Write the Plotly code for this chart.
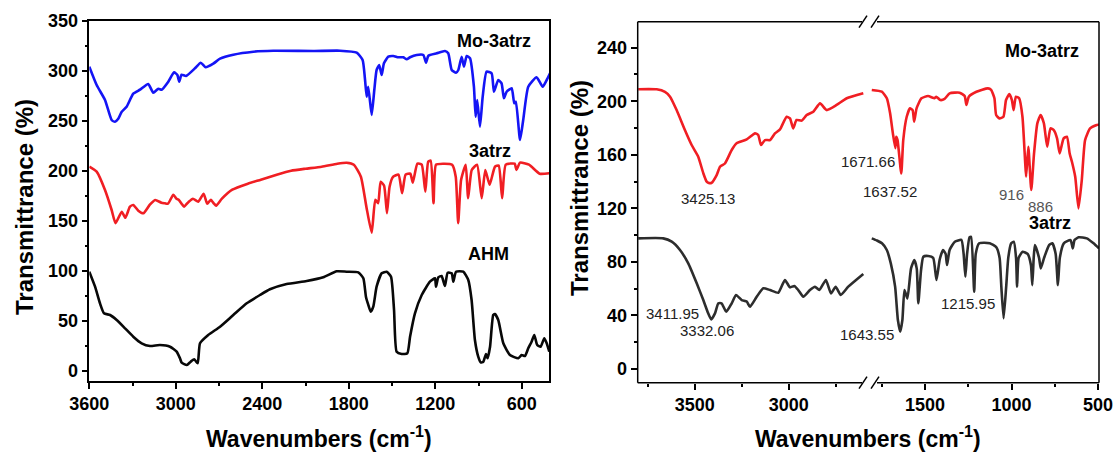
import plotly.graph_objects as go

W, H = 1117, 454

# ---------------- Left panel: full-range spectra ----------------
mo_wn = [3600, 3549, 3491, 3445, 3422, 3399, 3375, 3341, 3295, 3248, 3191, 3156, 3121, 3098,
         3052, 3012, 2989, 2976, 2960, 2929, 2867, 2827, 2793, 2740, 2693, 2601, 2462, 2324,
         2046, 1861, 1745, 1704, 1688, 1676, 1665, 1641, 1623, 1607, 1589, 1572, 1556, 1526,
         1491, 1457, 1422, 1398, 1375, 1329, 1283, 1264, 1248, 1190, 1133, 1110, 1086, 1056,
         1040, 1017, 1001, 982, 959, 932, 920, 909, 890, 871, 844, 809, 793, 763, 740, 724,
         705, 670, 652, 641, 612, 590, 555, 497, 455, 427, 404]
mo_t = [304, 285.7, 270.7, 250.7, 249, 252, 259, 264, 277, 281, 286.7, 278, 282, 281,
        289, 298.4, 295.7, 289, 296, 294.7, 302.4, 308, 303.4, 307, 312, 316, 319, 320,
        319.7, 320, 318, 310.7, 292, 274, 284, 255.7, 280.7, 300.7, 305.7, 295.7, 307.4, 314,
        314.7, 313.4, 313.4, 311.4, 313.4, 315.7, 315.7, 308, 315, 317.4, 319.7, 317.4, 300.7, 298,
        300.7, 314, 304, 314.7, 312.4, 284, 254, 270.7, 244, 274, 299, 297.4, 279, 290.7, 287.4, 272.4,
        279, 282.4, 267.4, 269, 230.7, 250.7, 284, 293.4, 284, 290.7, 297.4]

atrz_wn = [3600, 3549, 3491, 3445, 3418, 3375, 3350, 3318, 3295, 3260, 3225, 3180, 3143, 3100,
           3075, 3054, 3017, 2995, 2980, 2960, 2943, 2910, 2881, 2844, 2807, 2782, 2757, 2735,
           2720, 2680, 2608, 2500, 2410, 2300, 2200, 2100, 1988, 1880, 1815, 1765, 1716, 1678,
           1641, 1616, 1596, 1579, 1555, 1535, 1517, 1492, 1455, 1430, 1406, 1373, 1356, 1324,
           1294, 1269, 1249, 1232, 1212, 1195, 1145, 1083, 1058, 1041, 1021, 989, 972, 947, 910,
           878, 853, 823, 786, 760, 736, 711, 649, 637, 612, 550, 476, 409]
atrz_t = [204, 199, 180.7, 160.7, 147.5, 159, 153, 164, 165.7, 160, 157.4, 166, 170.7, 168,
          167.4, 167, 176, 172, 171, 167, 164, 169, 172, 169, 177, 167, 171, 167,
          165, 172, 181, 187, 191, 196, 200, 202, 204, 207, 208, 206, 194, 164,
          138, 171, 167.5, 189, 185, 157.6, 184, 194, 196, 177.5, 196, 197, 188, 207,
          206, 179, 209, 210, 167.5, 206, 207, 206, 194, 147.6, 190.7, 206, 172.5, 200.7, 206,
          172.5, 200.7, 186, 204, 205, 172.5, 206, 207, 200.7, 208, 206, 197, 197.5]

ahm_wn = [3600, 3560, 3526, 3498, 3456, 3410, 3352, 3295, 3237, 3179, 3110, 3040, 2994, 2971,
          2959, 2924, 2897, 2872, 2848, 2832, 2775, 2693, 2601, 2508, 2416, 2347, 2231, 2092,
          1977, 1884, 1815, 1734, 1699, 1681, 1665, 1648, 1630, 1607, 1572, 1537, 1507, 1486,
          1468, 1433, 1394, 1375, 1341, 1294, 1237, 1202, 1195, 1179, 1156, 1133, 1114, 1086,
          1075, 1056, 1006, 971, 948, 925, 902, 885, 867, 848, 837, 820, 798, 786, 763, 728,
          682, 624, 601, 578, 555, 532, 513, 493, 469, 444, 427, 409]
ahm_t = [99, 84, 67.4, 57.4, 55.7, 50.7, 42.4, 34, 27.4, 24.7, 25.7, 24, 19, 12.4,
         8, 5.7, 9, 11.4, 7.4, 27.4, 35.7, 44, 55.7, 67.4, 75.7, 81.4, 86.7, 89.7,
         93.4, 99.4, 99, 98.4, 92.4, 74, 66, 59, 64, 84, 97.4, 99, 94, 60.7,
         19, 16.7, 17.4, 34, 57.4, 75.7, 89, 92.4, 84, 93.4, 94.7, 84.7, 98, 97.4,
         89, 99, 99, 90.7, 70.7, 30.7, 14, 8.4, 9, 16.7, 12.4, 24, 55.7, 56.7, 50.7, 27.4,
         15.7, 12.4, 15.7, 14.7, 22.4, 29, 35.7, 25.7, 24, 32.4, 27.4, 19]

# ---------------- Right panel: broken-axis comparison ----------------
mo_hi_wn = [3800, 3702, 3658, 3631, 3596, 3552, 3516, 3481, 3454, 3436, 3425.13, 3410, 3383,
            3365, 3339, 3303, 3277, 3223, 3179, 3162, 3147, 3126, 3099, 3073, 3046, 3011,
            2993, 2976, 2958, 2931, 2904, 2869, 2833, 2798, 2745, 2691, 2603]
mo_hi_t = [209, 208.9, 207, 203.4, 193.4, 178.5, 167.3, 158.6, 146.2, 139.9, 139, 139.1, 144.9,
           151.1, 153.5, 163.6, 168.6, 171.5, 176, 174.8, 167.3, 171, 171, 176, 179, 188.4,
           187.2, 179.7, 186, 185.5, 189.7, 192.2, 198.4, 193.4, 197.2, 202.2, 205.9]

mo_lo_wn = [1808, 1750, 1721, 1702, 1686, 1671.66, 1667, 1659, 1637.52, 1626, 1606, 1587, 1572,
            1563, 1549, 1521, 1483, 1445, 1435, 1412, 1387, 1358, 1300, 1271, 1261, 1247, 1203,
            1137, 1118, 1099, 1089, 1070, 1047, 1032, 1013, 998, 988, 975, 956, 937, 922, 916,
            903, 886, 870, 851, 832, 813, 794, 775, 756, 737, 722, 699, 680, 664, 651, 632,
            613, 594, 575, 546, 508, 495]
mo_lo_t = [208.4, 207.1, 202.2, 191, 176, 165, 173.5, 171, 146, 171, 188.4, 194.7, 193.4,
           184.7, 194.7, 202.2, 203.9, 202.2, 203.4, 200.9, 201.7, 205.9, 206.4, 203.9, 197.2, 203.4, 207.1,
           209.6, 208.4, 202.2, 189.7, 187.2, 188.4, 200.9, 205.4, 200.9, 193.4, 203.4, 202.2, 188.4, 156, 143.6,
           166, 133.7, 161, 183.5, 189.7, 183.5, 166, 179.7, 178.5, 172.3, 161, 172.3, 173.5, 161, 154.8, 143.6,
           120, 141.1, 171, 179.7, 182.2, 182.7]

atrz_hi_wn = [3800, 3667, 3622, 3578, 3534, 3489, 3454, 3428, 3411.95, 3392, 3374, 3357, 3332.06,
              3303, 3280, 3250, 3223, 3206, 3170, 3135, 3099, 3055, 3020, 2993, 2970, 2949, 2922,
              2887, 2860, 2837, 2802, 2775, 2750, 2723, 2683, 2603]
atrz_hi_t = [97.6, 97.6, 95.1, 88.9, 78.9, 64, 51.5, 41.6, 37.1, 41.6, 49.1, 49.1, 42.8,
             49.1, 55.3, 51.5, 50.4, 46.5, 54, 60.3, 59, 57, 66.5, 61, 62, 59, 54,
             59, 61.5, 59, 66.5, 56.5, 61.5, 55.3, 61.5, 71]

atrz_lo_wn = [1808, 1778, 1749, 1721, 1698, 1673, 1657, 1643.55, 1631, 1619, 1602, 1581, 1562,
              1548, 1539, 1523, 1510, 1482, 1453, 1434, 1415, 1396, 1381, 1373, 1358, 1328, 1290,
              1277, 1267, 1257, 1243, 1234, 1215.95, 1207, 1187, 1126, 1088, 1069, 1059, 1046, 1031,
              1019, 1002, 987, 974, 968, 959, 936, 907, 888, 880, 872, 865, 841, 831, 812, 783,
              764, 745, 732, 721, 698, 659, 646, 636, 612, 565, 526, 495]
atrz_lo_t = [97.6, 96, 93.9, 88.9, 78.9, 61.5, 36.6, 27.9, 36.6, 59, 52.8, 75.2, 81.4,
             75, 49.1, 74, 83.9, 84.4, 83, 66.5, 82, 88.9, 86, 77.7, 88.9, 95.1, 96.4,
             86, 68.9, 86, 98.4, 98.8, 57.7, 86, 93.9, 94, 91, 83, 61.5, 37.9, 61.5,
             83, 93.9, 95.1, 83, 61.5, 83, 87.6, 86, 77.7, 62.7, 83, 92.6, 83, 75.2, 83, 92.6,
             93.9, 86, 62.7, 83, 93.9, 96.3, 90.1, 96.3, 98.4, 97.6, 93.9, 90.1]

# Peak labels: (text, x px, y px, colour)
peak_labels = [
    ("3425.13", 708, 199, "#222222"),
    ("3411.95", 672, 313, "#222222"),
    ("3332.06", 707, 330, "#222222"),
    ("1671.66", 868, 161, "#222222"),
    ("1637.52", 890, 191, "#222222"),
    ("916", 1011, 194, "#555555"),
    ("886", 1040, 206, "#555555"),
    ("1215.95", 968, 303, "#222222"),
    ("1643.55", 867, 334, "#222222"),
]

BLUE = "rgb(20,20,245)"
RED = "rgb(240,30,35)"
BLACK_L = "rgb(8,8,8)"
BLACK_R = "rgb(45,45,45)"
LW = 2.6
FONT = "Liberation Sans"


def px(x):
    return x / W


def py(y):
    return 1 - y / H


fig = go.Figure()

line_kw = dict(shape="spline", smoothing=0.5, width=LW)
fig.add_trace(go.Scatter(x=mo_wn, y=mo_t, mode="lines", line=dict(color=BLUE, **line_kw),
                         xaxis="x", yaxis="y"))
fig.add_trace(go.Scatter(x=atrz_wn, y=atrz_t, mode="lines", line=dict(color=RED, **line_kw),
                         xaxis="x", yaxis="y"))
fig.add_trace(go.Scatter(x=ahm_wn, y=ahm_t, mode="lines", line=dict(color=BLACK_L, **line_kw),
                         xaxis="x", yaxis="y"))

fig.add_trace(go.Scatter(x=mo_hi_wn, y=mo_hi_t, mode="lines", line=dict(color=RED, **line_kw),
                         xaxis="x2", yaxis="y2"))
fig.add_trace(go.Scatter(x=atrz_hi_wn, y=atrz_hi_t, mode="lines", line=dict(color=BLACK_R, **line_kw),
                         xaxis="x2", yaxis="y2"))
fig.add_trace(go.Scatter(x=mo_lo_wn, y=mo_lo_t, mode="lines", line=dict(color=RED, **line_kw),
                         xaxis="x3", yaxis="y2"))
fig.add_trace(go.Scatter(x=atrz_lo_wn, y=atrz_lo_t, mode="lines", line=dict(color=BLACK_R, **line_kw),
                         xaxis="x3", yaxis="y2"))

tickfont = dict(family=FONT, size=18, color="black", weight="bold")
common = dict(ticks="outside", ticklen=6, tickwidth=1.5, tickcolor="black", automargin=False,
              tickfont=tickfont, showgrid=False, zeroline=False)
minor_kw = dict(tick0=0, ticklen=3, tickwidth=1.5, tickcolor="black", ticks="outside")

# left panel geometry
L_x0, L_x1, L_y0, L_y1 = 89.3, 549.3, 20.7, 381
# right panel geometry
R_x0, R_xb, R_x1, R_y0, R_y1 = 637.7, 869, 1099, 21.7, 382.7

fig.update_layout(
    width=W, height=H,
    margin=dict(l=0, r=0, t=0, b=0, autoexpand=False),
    paper_bgcolor="white", plot_bgcolor="white",
    showlegend=False,
    xaxis=dict(domain=[px(L_x0), px(L_x1)], range=[3600, 409], anchor="y",
               dtick=600, tick0=0, showline=True, mirror=True, linecolor="black", linewidth=1.5,
               minor=dict(dtick=300, **minor_kw), **common),
    yaxis=dict(domain=[py(L_y1), py(L_y0)], range=[-10.3, 350], anchor="x",
               dtick=50, tick0=0, showline=True, mirror=True, linecolor="black", linewidth=1.5,
               minor=dict(dtick=25, **minor_kw), **common),
    xaxis2=dict(domain=[px(R_x0), px(R_xb)], range=[3803, 3803 - (R_xb - R_x0) / 0.188], anchor="y2",
                dtick=500, tick0=0, showline=False,
                minor=dict(dtick=250, **minor_kw), **common),
    xaxis3=dict(domain=[px(R_xb), px(R_x1)], range=[1824, 1824 - (R_x1 - R_xb) / 0.173], anchor="y2",
                dtick=500, tick0=0, showline=False,
                minor=dict(dtick=250, **minor_kw), **common),
    yaxis2=dict(domain=[py(R_y1), py(R_y0)], range=[-10.2, 259.4], anchor="x2",
                dtick=40, tick0=0, showline=False,
                minor=dict(dtick=20, **minor_kw), **common),
)

# frame of the broken-axis panel, with the break marks
shapes = []
frame = dict(type="line", xref="paper", yref="paper", line=dict(color="black", width=1.5))
gap_l, gap_r = 862, 877
for (xa, ya, xb, yb) in [
    (R_x0, R_y0, R_x0, R_y1),
    (R_x1, R_y0, R_x1, R_y1),
    (R_x0, R_y0, gap_l, R_y0),
    (gap_r, R_y0, R_x1, R_y0),
    (R_x0, R_y1, gap_l, R_y1),
    (gap_r, R_y1, R_x1, R_y1),
]:
    shapes.append(dict(frame, x0=px(xa), y0=py(ya), x1=px(xb), y1=py(yb)))
for yc in (R_y0, R_y1):
    for xc in (gap_l + 1, gap_r - 2):
        shapes.append(dict(frame, x0=px(xc - 4), y0=py(yc + 6), x1=px(xc + 4), y1=py(yc - 6)))
fig.update_layout(shapes=shapes)

ann = []
title_font = dict(family=FONT, size=23, color="black", weight="bold")
for cx in ((L_x0 + L_x1) / 2, (R_x0 + R_x1) / 2):
    ann.append(dict(text="Wavenumbers (cm<sup>-1</sup>)", x=px(cx), y=py(437), xref="paper", yref="paper",
                    showarrow=False, font=title_font, xanchor="center", yanchor="middle"))
for cx, cy in ((24, 207), (579, 188)):
    ann.append(dict(text="Transmittrance (%)", x=px(cx), y=py(cy), xref="paper", yref="paper",
                    showarrow=False, font=dict(family=FONT, size=24, color="black", weight="bold"),
                    textangle=-90, xanchor="center", yanchor="middle"))

series_font = dict(family=FONT, size=18, color="black", weight="bold")
for text, cx, cy in (("Mo-3atrz", 494, 41), ("3atrz", 490, 151), ("AHM", 488, 254),
                     ("Mo-3atrz", 1042, 51), ("3atrz", 1050, 223)):
    ann.append(dict(text=text, x=px(cx), y=py(cy), xref="paper", yref="paper", showarrow=False,
                    font=series_font, xanchor="center", yanchor="middle"))

for text, cx, cy, col in peak_labels:
    ann.append(dict(text=text, x=px(cx), y=py(cy), xref="paper", yref="paper", showarrow=False,
                    font=dict(family=FONT, size=15, color=col), xanchor="center", yanchor="middle"))

fig.update_layout(annotations=ann)

fig.write_html("out.html")
